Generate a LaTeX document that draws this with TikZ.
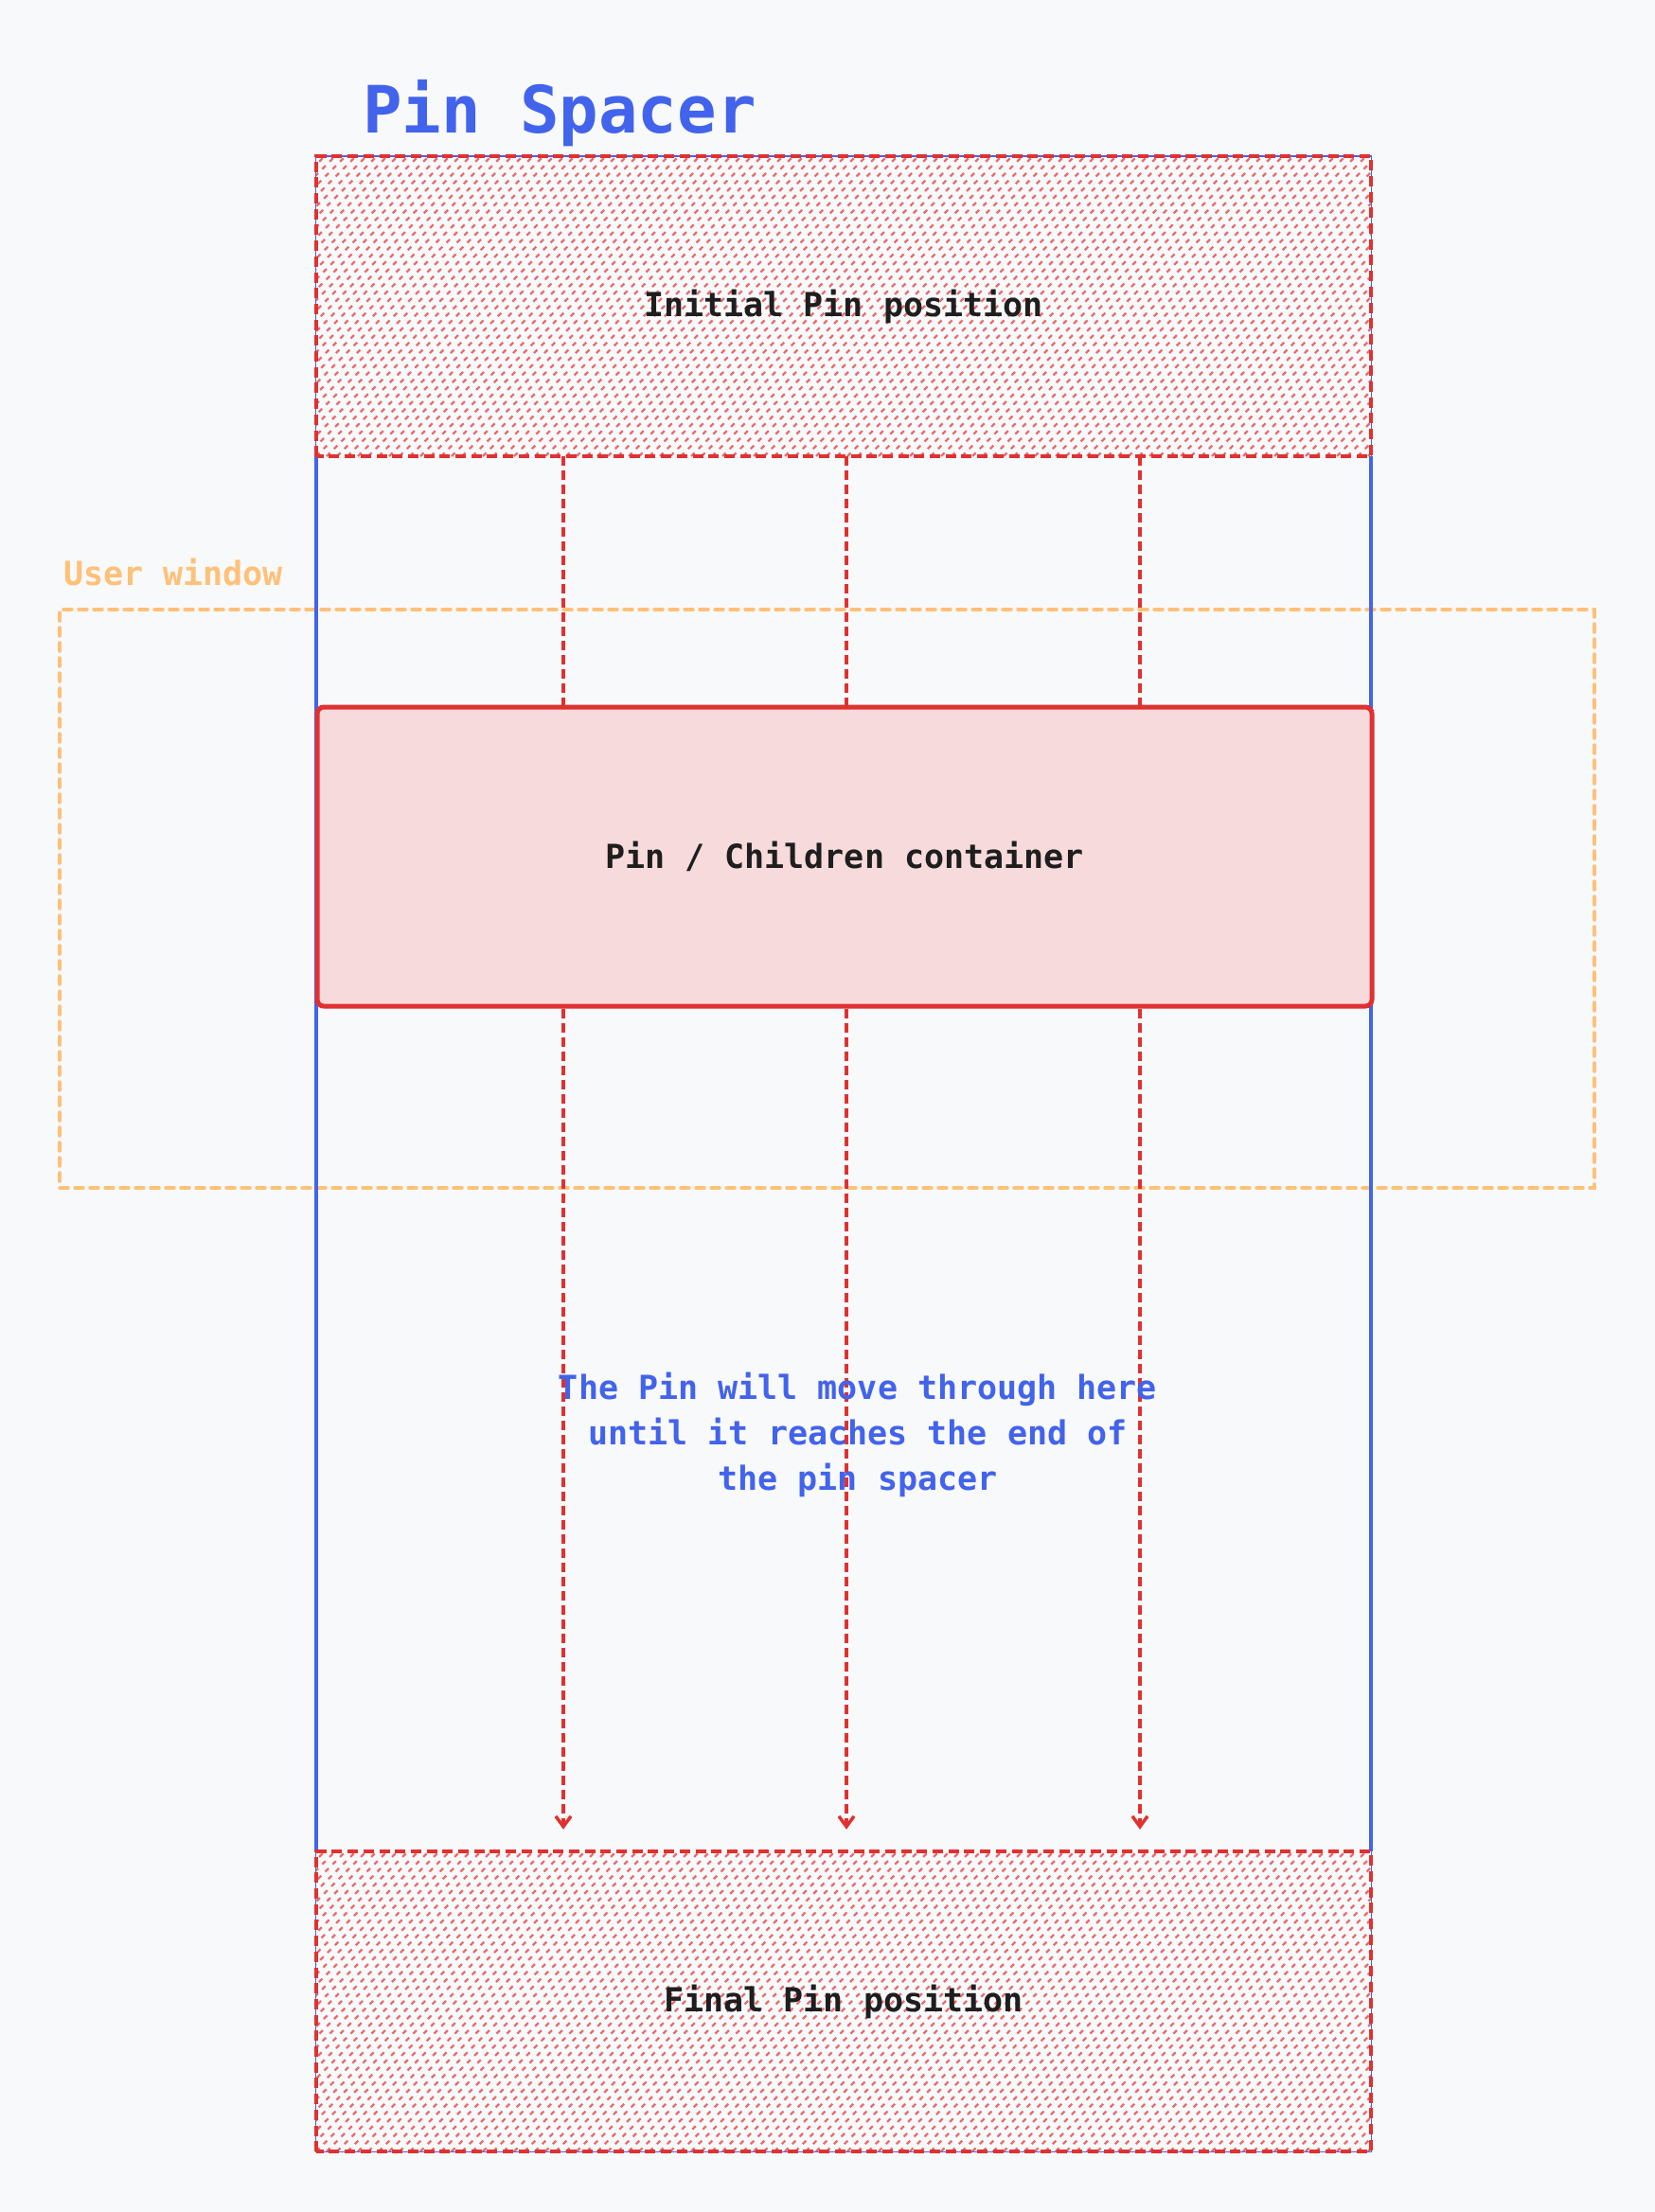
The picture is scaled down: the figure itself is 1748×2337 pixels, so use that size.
\documentclass[tikz,border=0pt]{standalone}
\usepackage{fontspec}
\newfontfamily\mono{DejaVu Sans Mono}
\usetikzlibrary{arrows.meta}
\definecolor{bg}{RGB}{248,249,251}
\definecolor{pblue}{RGB}{66,99,235}
\definecolor{pred}{RGB}{224,49,49}
\definecolor{hatchred}{RGB}{234,108,108}
\definecolor{porange}{RGB}{255,192,120}
\definecolor{pinfill}{RGB}{247,218,219}
\definecolor{ink}{RGB}{30,30,30}
\tikzset{
  labelfont/.style={font=\mono\bfseries\fontsize{35}{48}\selectfont},
  hatchline/.style={draw=hatchred, line width=2.3pt, dash pattern=on 5pt off 6pt},
  hatchbox/.style={rectangle, minimum width=1114pt, minimum height=317pt, inner sep=0pt,
    text=ink, labelfont,
    path picture={
      \foreach \i in {-330,-319,...,1125} {
        \draw[hatchline] ([xshift=\i pt]path picture bounding box.south west) -- ++(340pt,340pt);
      }
    }},
  hatchborder/.style={draw=pred, line width=4pt, dash pattern=on 11pt off 5.7pt},
  pinbox/.style={rectangle, rounded corners=7pt, draw=pred, line width=5pt, fill=pinfill,
    minimum width=1114pt, minimum height=316pt, inner sep=0pt, text=ink, labelfont},
  userwin/.style={rectangle, draw=porange, line width=3.5pt, dash pattern=on 9pt off 7pt,
    line cap=round, minimum width=1621pt, minimum height=611pt, inner sep=0pt},
  spacerline/.style={draw=pblue, line width=4.5pt},
  spacerthin/.style={draw=pblue, line width=1pt},
  flowline/.style={draw=pred, line width=3.5pt, dash pattern=on 10pt off 5pt},
  flowarrow/.style={flowline, -{Straight Barb[length=11pt,width=16pt,line width=3.5pt]}, shorten >=23pt},
}
\begin{document}
\begin{tikzpicture}[x=1pt,y=-1pt]
\useasboundingbox[fill=bg] (0,0) rectangle (1748,2337);

% user window
\node[userwin] (win) at (873.5,949.5) {};
\node[anchor=base west, inner sep=0pt, text=porange, labelfont] (winlabel) at (67,618) {User window};

% hatched boxes (shapes only, text later)
\node[hatchbox] (init) at (891,323.5) {};
\node[hatchbox] (final) at (891,2114.5) {};

% spacer outline
\draw[spacerthin] (init.north west) rectangle (final.south east);
\draw[spacerline] (init.south west) -- (final.north west);
\draw[spacerline] (init.south east) -- (final.north east);
\draw[spacerline, line width=2pt] (init.north west) -- (init.north east);

% hatched borders
\draw[hatchborder] (init.south west) rectangle (init.north east);
\draw[hatchborder] (final.south west) rectangle (final.north east);

% connector columns
\coordinate (c1) at (595,0);
\coordinate (c2) at (894,0);
\coordinate (c3) at (1204,0);

% pin container
\node[pinbox] (pin) at (892,905) {Pin / Children container};

\foreach \c in {c1,c2,c3} {
  \draw[flowline] (init.south -| \c) -- (pin.north -| \c);
  \draw[flowarrow] (pin.south -| \c) -- (final.north -| \c);
}

% labels
\node[text=ink, labelfont, inner sep=0pt] (initlabel) at (init.center) {Initial Pin position};
\node[text=ink, labelfont, inner sep=0pt] (finallabel) at (final.center) {Final Pin position};

\node[anchor=base west, inner sep=0pt, text=pblue, font=\mono\bfseries\fontsize{69}{80}\selectfont] (title) at (383,140) {Pin Spacer};

\node[align=center, inner sep=0pt, text=pblue, labelfont] (note) at (906,1516)
  {The Pin will move through here\\until it reaches the end of\\the pin spacer};
\end{tikzpicture}
\end{document}
